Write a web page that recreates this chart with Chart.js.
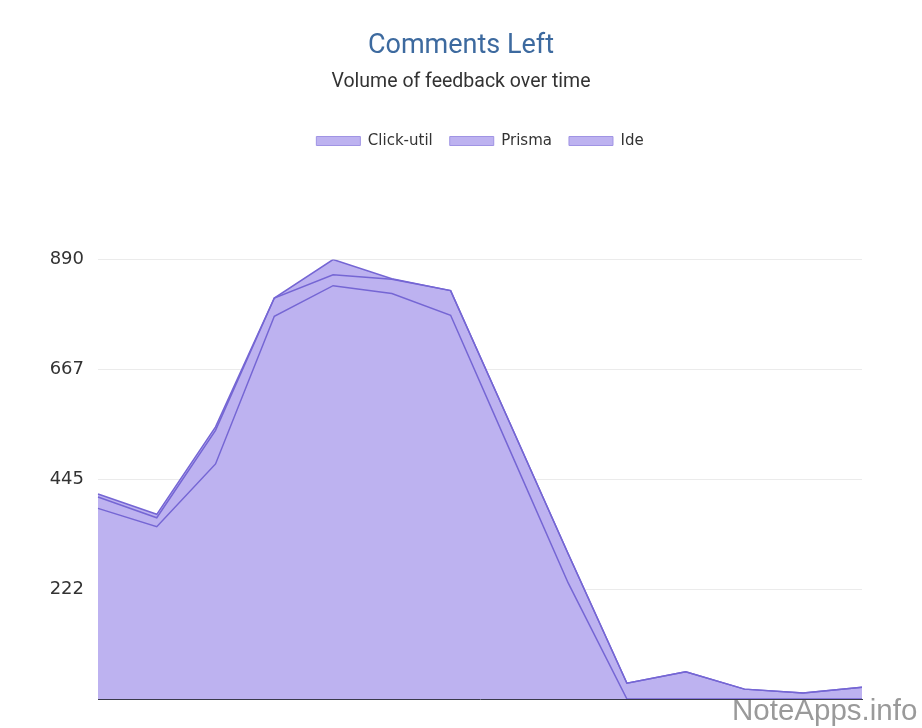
<!DOCTYPE html>
<html>
<head>
<meta charset="utf-8">
<title>Comments Left</title>
<script src="https://cdn.jsdelivr.net/npm/chart.js@4.4.1/dist/chart.umd.min.js"></script>
<style>
  body { margin: 0; background: #fff; }
  .wrap { position: relative; width: 922px; height: 728px; }
  .mark {
    position: absolute; left: 732px; top: 695px;
    font: 29.5px 'Liberation Sans', Arial, sans-serif; line-height: 1;
    color: #9a9a9a;
  }
</style>
</head>
<body>
<div class="wrap">
  <canvas id="myChart"></canvas>
  <div class="mark">NoteApps.info</div>
</div>
<script>
var labels = ['W1', 'W2', 'W3', 'W4', 'W5', 'W6', 'W7', 'W8', 'W9', 'W10', 'W11', 'W12', 'W13', 'W14']
var clickUtil = [415, 374, 551, 812, 890, 851, 827, 561, 294, 32, 55, 20, 12, 24]
var prisma = [409, 367, 544, 812, 859, 850, 827, 561, 294, 32, 55, 20, 12, 24]
var ide = [386, 349, 476, 775, 837, 821, 777, 506, 235, 0, 0, 0, 0, 0]
var yTicks = [0, 222.5, 445, 667.5, 890]

var fillColor = 'rgb(189, 178, 240)'
var lineColor = 'rgb(117, 102, 212)'

function series(name, values) {
  return {
    label: name,
    data: values,
    fill: 'origin',
    backgroundColor: fillColor,
    borderColor: lineColor,
    borderWidth: 1.5,
    pointRadius: 0,
    tension: 0,
  }
}

// push the plot down below the legend, and center the legend over the plot
const legendGap = {
  id: 'legendGap',
  beforeInit(chart) {
    const fit = chart.legend.fit
    chart.legend.fit = function () {
      fit.bind(chart.legend)()
      this.height += 101
    }
  },
  afterLayout(chart) {
    chart.legend.left = chart.chartArea.left
    chart.legend.right = chart.chartArea.right
  },
}

new Chart('myChart', {
  type: 'line',
  data: {
    labels: labels,
    datasets: [series('Click-util', clickUtil), series('Prisma', prisma), series('Ide', ide)],
  },
  options: {
    responsive: true,
    maintainAspectRatio: false,
    animation: false,
    layout: { padding: { left: 0, right: 0, bottom: 29, top: 0 } },
    plugins: {
      filler: { drawTime: 'beforeDatasetsDraw' },
      tooltip: { enabled: false },
      title: {
        display: true,
        text: 'Comments Left',
        color: '#3d6a9f',
        font: { family: 'Roboto', size: 27, weight: 'normal' },
        padding: { top: 30, bottom: 8 },
      },
      subtitle: {
        display: true,
        text: 'Volume of feedback over time',
        color: '#333',
        font: { family: 'Roboto', size: 19.5, weight: 'normal' },
        padding: { top: 0, bottom: 22.7 },
      },
      legend: {
        position: 'top',
        labels: {
          boxWidth: 44,
          boxHeight: 9,
          padding: 17,
          color: '#333',
          font: { family: 'DejaVu Sans', size: 15 },
          generateLabels: function (chart) {
            return Chart.defaults.plugins.legend.labels.generateLabels(chart).map(function (item) {
              item.lineWidth = 1
              item.strokeStyle = 'rgb(160, 148, 228)'
              return item
            })
          },
        },
      },
    },
    scales: {
      x: {
        offset: false,
        grid: { display: false, drawTicks: false },
        border: { display: true, color: '#3a3a4a', width: 1 },
        ticks: { display: false },
      },
      y: {
        min: 0,
        max: 890,
        afterFit: function (axis) { axis.width = 98 },
        afterBuildTicks: function (axis) {
          axis.ticks = yTicks.map(function (v) { return { value: v } })
        },
        border: { display: false },
        grid: {
          drawTicks: false,
          color: function (ctx) { return ctx.tick && ctx.tick.value === 0 ? 'rgba(0,0,0,0)' : '#ebebeb' },
        },
        ticks: {
          padding: 14,
          color: '#333',
          font: { family: 'DejaVu Sans', size: 18 },
          callback: function (value) { return value === 0 ? '' : Math.floor(value) },
        },
      },
      yRight: {
        position: 'right',
        afterFit: function (axis) { axis.width = 60 },
        grid: { display: false, drawTicks: false },
        border: { display: false },
        ticks: { display: false },
      },
    },
  },
  plugins: [legendGap],
})
</script>
</body>
</html>
